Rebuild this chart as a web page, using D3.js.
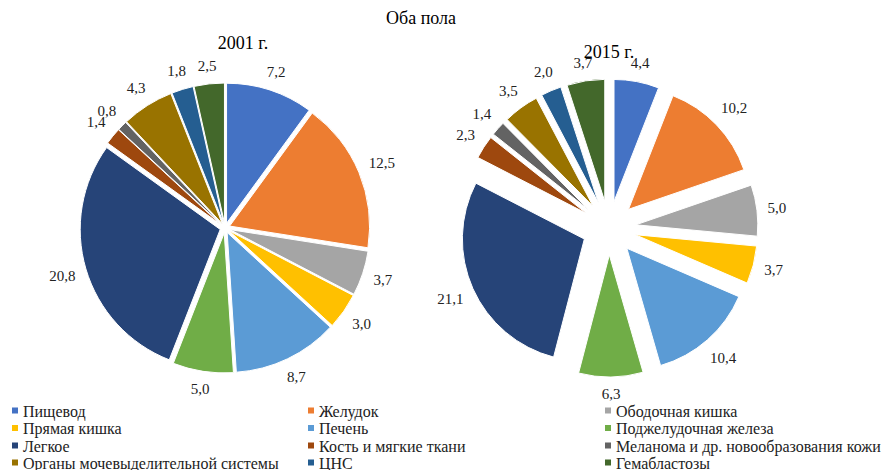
<!DOCTYPE html>
<html>
<head>
<meta charset="utf-8">
<script src="https://cdn.jsdelivr.net/npm/d3@7.9.0/dist/d3.min.js"></script>
<style>
  body { margin: 0; background: #fff; }
  svg { display: block; font-family: "Times New Roman", "Liberation Serif", serif; }
</style>
</head>
<body>
<svg id="chart" width="893" height="470"></svg>
<script>
const categories = ['Пищевод', 'Желудок', 'Ободочная кишка', 'Прямая кишка', 'Печень',
  'Поджелудочная железа', 'Легкое', 'Кость и мягкие ткани',
  'Меланома и др. новообразования кожи', 'Органы мочевыделительной системы', 'ЦНС', 'Гемабластозы'];
const values2001 = [7.2, 12.5, 3.7, 3.0, 8.7, 5.0, 20.8, 1.4, 0.8, 4.3, 1.8, 2.5];
const values2015 = [4.4, 10.2, 5.0, 3.7, 10.4, 6.3, 21.1, 2.3, 1.4, 3.5, 2.0, 3.7];
const colorList = ['#4472c4', '#ed7d31', '#a5a5a5', '#ffc000', '#5b9bd5', '#70ad47',
  '#264478', '#9e480e', '#636363', '#997300', '#255e91', '#43682b'];

const svg = d3.select('#chart');
const color = d3.scaleOrdinal().domain(categories).range(colorList);
const fmt = (v) => d3.format('.1f')(v).replace('.', ',');

svg.append('text')
  .attr('x', 421).attr('y', 24)
  .attr('text-anchor', 'middle')
  .attr('font-size', 18)
  .text('Оба пола');

function drawPie(values, title, cx, cy, r, explode, titleX, titleY) {
  let data = values.map((v, i) => ({ label: categories[i], value: v }));
  let pie = d3.pie().sort(null).value((d) => d.value);
  let arc = d3.arc().innerRadius(0).outerRadius(r);
  let arcs = pie(data);
  let g = svg.append('g').attr('transform', `translate(${cx},${cy})`);

  g.selectAll('path')
    .data(arcs)
    .join('path')
    .attr('d', arc)
    .attr('fill', (d) => color(d.data.label))
    .attr('stroke', '#fff')
    .attr('stroke-width', 1)
    .attr('transform', (d) => {
      let a = (d.startAngle + d.endAngle) / 2;
      return `translate(${explode * Math.sin(a)},${-explode * Math.cos(a)})`;
    });

  // labels: text box sits just outside the exploded slice
  let r0 = r + explode + 10;
  g.selectAll('text.lbl')
    .data(arcs)
    .join('text')
    .attr('class', 'lbl')
    .attr('text-anchor', 'middle')
    .attr('dominant-baseline', 'central')
    .attr('font-size', 15)
    .attr('fill', '#222')
    .text((d) => fmt(d.data.value))
    .each(function (d) {
      let a = (d.startAngle + d.endAngle) / 2;
      let w = this.getComputedTextLength();
      let dist = r0 + (w / 2) * Math.abs(Math.sin(a)) + 7 * Math.abs(Math.cos(a));
      d3.select(this)
        .attr('x', dist * Math.sin(a))
        .attr('y', -dist * Math.cos(a));
    });

  svg.append('text')
    .attr('x', titleX).attr('y', titleY)
    .attr('text-anchor', 'middle')
    .attr('font-size', 18)
    .text(title);
}

drawPie(values2001, '2001 г.', 225, 228, 140, 5, 243, 49);
drawPie(values2015, '2015 г.', 609, 228, 122, 27, 609, 58);

// legend, 3 columns
const colX = [12, 308, 605];
const rowY = [411, 428.5, 446, 463];
let legend = svg.append('g');
categories.forEach((c, i) => {
  let x = colX[i % 3];
  let y = rowY[Math.floor(i / 3)];
  legend.append('rect')
    .attr('x', x).attr('y', y - 3.5)
    .attr('width', 6).attr('height', 6)
    .attr('fill', color(c));
  legend.append('text')
    .attr('x', x + 11).attr('y', y)
    .attr('dominant-baseline', 'central')
    .attr('font-size', 16)
    .attr('fill', '#222')
    .text(c);
});
</script>
</body>
</html>
